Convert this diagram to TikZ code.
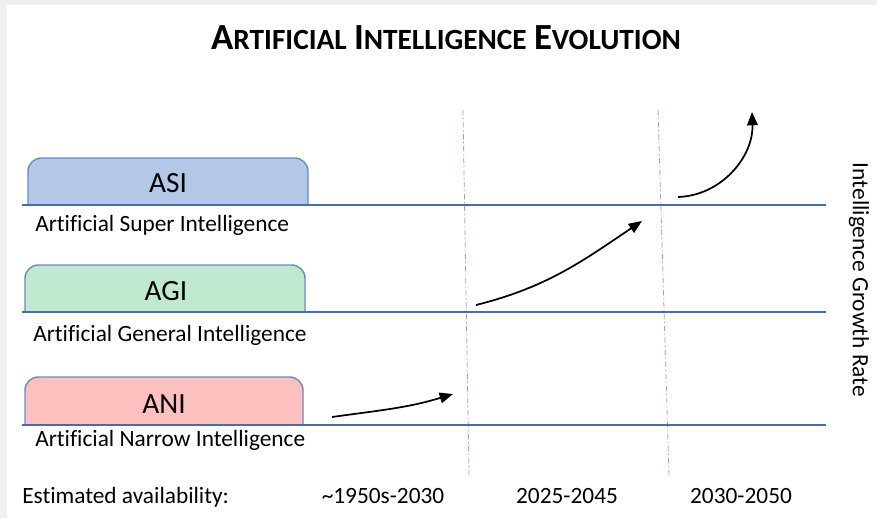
\documentclass[tikz,border=0pt]{standalone}
\usepackage{fontspec}
\setmainfont[Ligatures={NoCommon}]{Carlito}
\usetikzlibrary{arrows.meta}
\definecolor{lineblue}{HTML}{4A6BAA}
\definecolor{boxborder}{HTML}{6A8BC8}
\definecolor{asifill}{HTML}{B4C7E7}
\definecolor{agifill}{HTML}{C0E9D0}
\definecolor{anifill}{HTML}{FFC0C0}
\definecolor{dashblue}{HTML}{8FA8D8}
\definecolor{edgegray}{HTML}{F0F0F0}
\tikzset{
  levelline/.style={draw=lineblue, line width=1.1pt},
  levelbox/.style={draw=boxborder, line width=1.1pt},
  boxlabel/.style={font=\fontsize{22}{26}\selectfont, inner sep=0pt},
  desc/.style={font=\fontsize{17.5}{21}\selectfont, inner sep=0pt, anchor=base west},
  bottomtext/.style={font=\fontsize{17.5}{21}\selectfont, inner sep=0pt, anchor=base},
  divider/.style={draw=dashblue, line width=0.6pt, dash pattern=on 4pt off 2pt on 1pt off 2pt},
  growth/.style={draw=black, line width=1.3pt, -{Triangle[length=10pt,width=8pt]}},
}
\newcommand{\ttlbig}[1]{{\fontsize{27.6}{32}\selectfont #1}}
\newcommand{\ttlsmall}[1]{{\fontsize{22}{26}\selectfont #1}}
\begin{document}
\begin{tikzpicture}[x=0.75pt, y=-0.75pt]
\useasboundingbox (0,0) rectangle (877,518);
\fill[white] (0,0) rectangle (877,518);
\fill[edgegray] (0,0) rectangle (7,518);
\fill[edgegray] (0,0) rectangle (877,5);

% title
\node[font=\bfseries\fontsize{24}{28}\selectfont, inner sep=0pt, anchor=base] (title) at (446,49)
  {\ttlbig{A}\ttlsmall{RTIFICIAL} \ttlbig{I}\ttlsmall{NTELLIGENCE} \ttlbig{E}\ttlsmall{VOLUTION}};

% dividers
\coordinate (d1top) at (463,110);
\coordinate (d1bot) at (469,475);
\coordinate (d2top) at (658,110);
\coordinate (d2bot) at (669,475);
\draw[divider] (d1top) -- (d1bot);
\draw[divider] (d2top) -- (d2bot);

% boxes
\fill[asifill] (28,205) [rounded corners=10pt] -- (28,158) -- (308,158) [sharp corners] -- (308,205) -- cycle;
\draw[levelbox] (28,205) [rounded corners=10pt] -- (28,158) -- (308,158) [sharp corners] -- (308,205);
\fill[agifill] (25,312) [rounded corners=10pt] -- (25,265) -- (305,265) [sharp corners] -- (305,312) -- cycle;
\draw[levelbox] (25,312) [rounded corners=10pt] -- (25,265) -- (305,265) [sharp corners] -- (305,312);
\fill[anifill] (25,425) [rounded corners=10pt] -- (25,377) -- (303,377) [sharp corners] -- (303,425) -- cycle;
\draw[levelbox] (25,425) [rounded corners=10pt] -- (25,377) -- (303,377) [sharp corners] -- (303,425);

\node[boxlabel] (asi) at (168,183) {ASI};
\node[boxlabel] (agi) at (166,291) {AGI};
\node[boxlabel] (ani) at (164,404) {ANI};

% level lines
\coordinate (l1a) at (22,205); \coordinate (l1b) at (826,205);
\coordinate (l2a) at (22,312); \coordinate (l2b) at (826,312);
\coordinate (l3a) at (22,425); \coordinate (l3b) at (826,425);
\draw[levelline] (l1a) -- (l1b);
\draw[levelline] (l2a) -- (l2b);
\draw[levelline] (l3a) -- (l3b);

% descriptions
\node[desc] (asid) at (35,231) {Artificial Super Intelligence};
\node[desc] (agid) at (33,341) {Artificial General Intelligence};
\node[desc] (anid) at (35,446) {Artificial Narrow Intelligence};

% growth arrows
\coordinate (a1s) at (332,417); \coordinate (a1e) at (453,394);
\coordinate (a2s) at (476,305); \coordinate (a2e) at (642,221);
\coordinate (a3s) at (678,197); \coordinate (a3e) at (752,112);
\draw[growth] (a1s) to[out=8, in=197] (a1e);
\draw[growth] (a2s) to[out=14, in=214] (a2e);
\draw[growth] (a3s) to[out=2, in=-88] (a3e);

% axis label
\node[font=\fontsize{17.5}{21}\selectfont, inner sep=0pt, rotate=-90] (rate) at (859,280) {Intelligence Growth Rate};

% bottom row
\node[desc] (est) at (22,503) {Estimated availability:};
\node[bottomtext] (p1) at (383,503) {\textasciitilde 1950s-2030};
\node[bottomtext] (p2) at (567,503) {2025-2045};
\node[bottomtext] (p3) at (741,503) {2030-2050};
\end{tikzpicture}
\end{document}
